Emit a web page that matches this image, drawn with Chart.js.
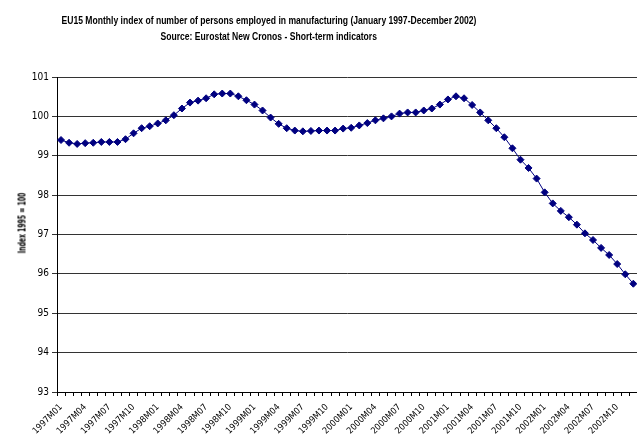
<!DOCTYPE html>
<html>
<head>
<meta charset="utf-8">
<script src="https://cdn.jsdelivr.net/npm/chart.js@4.4.1/dist/chart.umd.min.js"></script>
<style>
  html, body { margin: 0; padding: 0; background: #fff; }
  #wrap { position: relative; width: 637px; height: 439px; overflow: hidden; }
  #c { position: absolute; left: 0; top: 0; }
  .ttl {
    position: absolute; left: 0; width: 538px; text-align: center;
    font: bold 11px "Liberation Sans", Arial, sans-serif; color: #000; white-space: nowrap;
  }
  .ttl span { display: inline-block; transform: scaleX(0.78); transform-origin: center; }
  #ytitle {
    position: absolute; left: 22px; top: 223px; width: 0; height: 0;
  }
  #ytitle span {
    position: absolute; transform: translate(-50%, -50%) rotate(-90deg) scaleX(0.62);
    font: bold 11px "DejaVu Sans Condensed", "Liberation Sans Narrow", "Liberation Sans", sans-serif;
    white-space: nowrap; color: #000;
  }
</style>
</head>
<body>
<div id="wrap">
  <canvas id="c" width="647" height="439"></canvas>
  <div class="ttl" style="top:14px"><span>EU15 Monthly index of number of persons employed in manufacturing (January 1997-December 2002)</span></div>
  <div class="ttl" style="top:30px"><span>Source: Eurostat New Cronos - Short-term indicators</span></div>
  <div id="ytitle"><span>Index 1995 = 100</span></div>
</div>
<script>
var years = [1997, 1998, 1999, 2000, 2001, 2002];
var months = ['M01','M02','M03','M04','M05','M06','M07','M08','M09','M10','M11','M12'];

// monthly index, 1997M01 .. 2002M12
var employment = [
  99.40, 99.33, 99.30, 99.32, 99.33, 99.35, 99.35, 99.35, 99.42, 99.57, 99.70, 99.75,
  99.82, 99.90, 100.03, 100.20, 100.35, 100.40, 100.46, 100.56, 100.58, 100.58, 100.51, 100.41,
  100.30, 100.15, 99.97, 99.81, 99.70, 99.64, 99.62, 99.63, 99.64, 99.64, 99.64, 99.69,
  99.71, 99.77, 99.83, 99.90, 99.95, 100.00, 100.07, 100.10, 100.10, 100.15, 100.20, 100.30,
  100.43, 100.51, 100.46, 100.29, 100.10, 99.90, 99.70, 99.47, 99.19, 98.90, 98.69, 98.42,
  98.07, 97.79, 97.60, 97.44, 97.25, 97.03, 96.86, 96.66, 96.48, 96.25, 95.99, 95.75
];

var labels = [];
for (var y in years) {
  for (var m in months) {
    labels.push(years[y] + months[m]);
  }
}

var narrow = 'Liberation Sans Narrow, DejaVu Sans Condensed, Liberation Sans';

var ctx = document.getElementById('c');

var lineChart = new Chart(ctx, {
  type: 'line',
  data: {
    labels: labels,
    datasets: [
      {
        label: 'EU15',
        data: employment,
        borderColor: '#000080',
        backgroundColor: '#000080',
        borderWidth: 1,
        pointStyle: 'rectRot',
        pointRadius: 3.5,
        pointBorderWidth: 1,
        tension: 0,
        fill: false
      }
    ]
  },
  options: {
    responsive: false,
    animation: false,
    layout: { padding: { top: 77, left: 0, right: 0, bottom: 0 } },
    plugins: {
      legend: { display: false },
      tooltip: { enabled: false },
      title: { display: false }
    },
    scales: {
      x: {
        offset: true,
        grid: { drawOnChartArea: false, drawTicks: true, tickLength: 4, color: '#000', offset: true },
        border: { color: '#000', width: 1 },
        ticks: {
          autoSkip: false,
          maxRotation: 45,
          minRotation: 45,
          padding: 6,
          color: '#000',
          font: { family: narrow, size: 9 },
          callback: function(val, i) { return i % 3 === 0 ? labels[i] : ''; }
        },
        afterFit: function(s) { s.height = 47; }
      },
      y: {
        min: 93,
        max: 101,
        grid: { color: '#333', lineWidth: 1, tickLength: 5 },
        border: { color: '#000', width: 1 },
        ticks: {
          stepSize: 1,
          padding: 3,
          color: '#000',
          font: { family: narrow, size: 10 }
        },
        afterFit: function(s) { s.width = 57; }
      }
    }
  }
});
</script>
</body>
</html>
